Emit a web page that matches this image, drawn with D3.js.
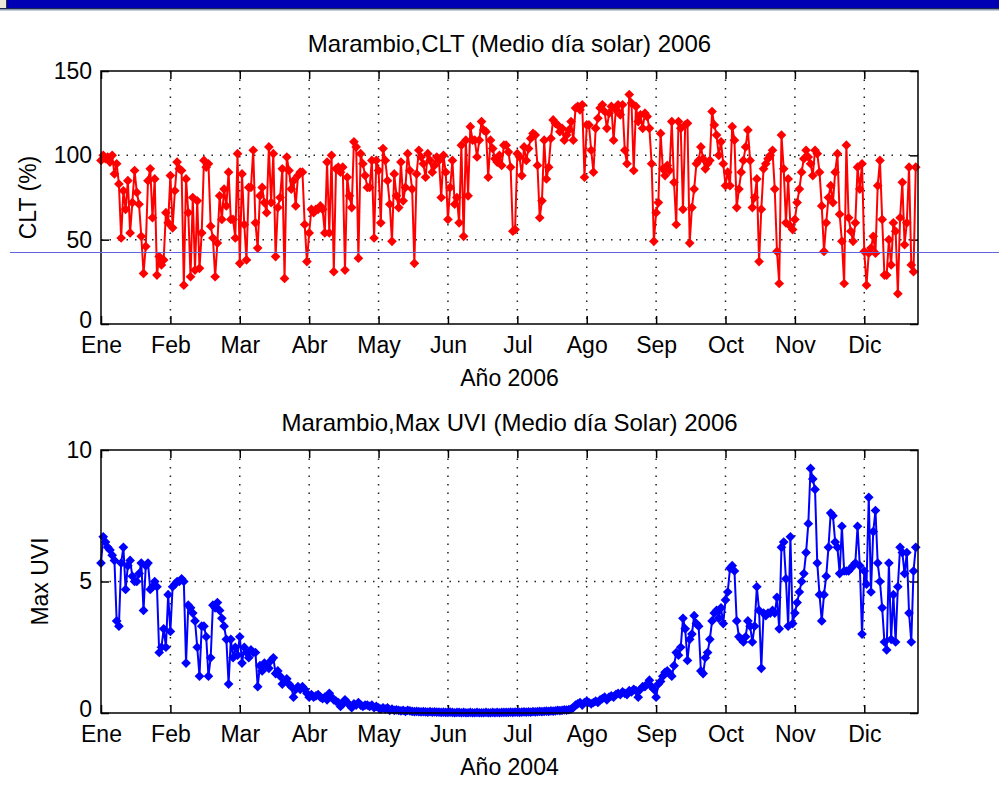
<!DOCTYPE html>
<html>
<head>
<meta charset="utf-8">
<script src="https://cdn.jsdelivr.net/npm/d3@7"></script>
<style>
  body { margin: 0; background: #fff; }
  text { font-family: "Liberation Sans", Arial, sans-serif; fill: #000; }
</style>
</head>
<body>
<div class="vis-holder"></div>
<script>
// month labels and days per month (2006)
var monthLabels = ['Ene', 'Feb', 'Mar', 'Abr', 'May', 'Jun', 'Jul', 'Ago', 'Sep', 'Oct', 'Nov', 'Dic'];
var monthDays = [31, 28, 31, 30, 31, 30, 31, 31, 30, 31, 30, 31];
var tickDays = [1, 32, 63, 94, 125, 156, 187, 218, 249, 280, 311, 342];

// CLT (%) at solar noon, month by month
var cltEne = [97,100,98,99,96,100,89,95,83,51,79,68,85,54,72,91,78,71,52,30,46,85,92,63,86,29,40,35,38,66,60];
var cltFeb = [88,57,79,96,92,91,23,86,66,28,75,32,73,33,54,97,93,95,58,51,28,48,76,62,80,70,90,62];
var cltMar = [62,51,101,36,89,59,38,81,81,103,60,45,76,81,72,66,105,72,101,40,69,75,92,27,99,91,80,85,70,88,90];
var cltAbr = [90,59,37,54,68,66,68,68,70,68,54,96,54,100,31,92,93,90,93,32,87,76,69,108,105,39,101,95,88,81];
var cltMay = [81,97,51,97,91,60,104,97,85,71,49,89,76,69,96,73,81,101,91,80,36,89,103,99,95,87,101,97,90,94,99];
var cltJun = [97,75,100,90,62,81,97,71,75,60,106,52,109,76,117,109,109,99,109,120,115,114,87,109,104,98,96,100,94,106];
var cltJul = [106,102,93,55,56,101,99,88,105,97,104,110,113,112,94,63,73,109,86,93,110,121,119,118,114,116,109,112,115,120,109];
var cltAgo = [128,129,127,130,87,118,118,103,90,116,122,128,130,126,116,125,129,109,127,130,124,130,103,95,136,131,91,129,120,124,116];
var cltSep = [125,123,116,95,49,66,72,113,92,88,94,91,120,84,59,120,116,68,118,119,48,69,80,95,97,105,98,92,95,97];
var cltOct = [126,118,112,100,108,95,82,90,82,117,109,69,80,90,97,105,115,97,69,75,86,37,68,92,95,98,100,103,80,43,24];
var cltNov = [112,92,60,86,58,56,62,72,80,90,98,103,99,95,88,103,101,90,70,43,60,75,82,72,90,101,65,49,24,106];
var cltDic = [63,55,49,60,93,80,95,43,23,42,45,52,42,82,97,62,29,29,50,35,60,55,18,63,84,47,60,93,35,31,93];

// Max UVI at solar noon, month by month
var uviEne = [5.7,6.7,6.5,6.3,6.2,6.0,5.8,3.5,3.3,5.7,6.3,4.7,5.6,5.8,5.2,5.0,5.0,5.3,5.7,3.9,5.6,5.7,4.7,4.8,5.0,4.8,2.3,2.5,3.2,2.5,4.5];
var uviFeb = [3.1,4.8,4.9,5.0,5.0,5.1,5.0,1.9,4.1,4.0,3.8,3.5,2.5,1.4,3.3,3.3,2.9,1.4,2.1,4.1,4.0,4.2,3.9,3.6,3.3,2.8,1.1,2.8];
var uviMar = [2.1,2.5,2.2,2.9,1.9,2.5,2.3,2.1,2.4,2.3,2.3,1.0,1.8,1.6,1.9,1.8,1.7,2.0,2.1,1.5,1.6,1.4,1.1,1.2,1.3,1.1,1.0,0.6,0.9,1.0,0.9];
var uviAbr = [1.0,0.9,0.75,0.6,0.7,0.6,0.65,0.7,0.6,0.55,0.6,0.5,0.75,0.6,0.5,0.45,0.4,0.25,0.35,0.5,0.4,0.3,0.2,0.35,0.3,0.4,0.3,0.25,0.3,0.3];
var uviMay = [0.25,0.3,0.2,0.25,0.2,0.15,0.2,0.15,0.2,0.1,0.15,0.1,0.12,0.1,0.08,0.1,0.06,0.1,0.08,0.06,0.05,0.06,0.05,0.04,0.05,0.04,0.03,0.05,0.03,0.04,0.03];
var uviJun = [0.03,0.02,0.03,0.02,0.02,0.03,0.02,0.01,0.02,0.02,0.01,0.02,0.01,0.01,0.02,0.01,0.01,0.02,0.01,0.01,0.01,0.02,0.01,0.01,0.02,0.01,0.02,0.01,0.02,0.02];
var uviJul = [0.02,0.02,0.03,0.02,0.03,0.03,0.02,0.03,0.04,0.03,0.04,0.03,0.05,0.04,0.05,0.06,0.05,0.06,0.07,0.06,0.08,0.07,0.08,0.1,0.09,0.1,0.12,0.11,0.13,0.15,0.2];
var uviAgo = [0.3,0.35,0.4,0.3,0.4,0.45,0.4,0.35,0.4,0.45,0.4,0.5,0.55,0.6,0.5,0.6,0.65,0.6,0.7,0.75,0.7,0.8,0.75,0.7,0.85,0.8,0.9,0.85,0.6,0.9,1.0];
var uviSep = [1.0,1.1,1.25,1.0,0.9,0.6,1.1,1.2,1.4,1.55,1.6,1.5,1.4,1.8,2.3,2.2,2.5,3.6,3.2,2.0,2.8,3.0,3.7,3.4,3.3,1.6,1.5,2.1,2.3,2.8];
var uviOct = [3.5,3.8,3.9,3.6,4.0,3.4,4.3,4.6,5.5,5.6,5.4,3.5,2.9,2.8,2.7,2.9,3.5,3.3,2.7,3.3,4.8,3.9,1.7,3.8,3.7,3.8,3.8,3.9,3.8,4.4,3.2];
var uviNov = [6.3,6.5,5.1,3.3,6.7,3.4,3.8,4.2,4.6,5.0,5.3,6.1,7.2,9.3,8.9,8.5,5.7,4.5,3.5,4.5,5.2,6.3,7.6,7.5,6.5,6.3,5.3,7.1,5.4,5.4];
var uviDic = [5.4,5.5,5.6,5.7,7.1,5.6,3.0,5.4,4.9,8.2,4.6,6.9,7.7,5.7,5.0,4.0,2.7,2.4,5.7,2.8,4.5,2.7,4.8,6.3,6.1,5.3,6.1,3.8,2.7,5.4,6.3];

var cltMonths = [cltEne, cltFeb, cltMar, cltAbr, cltMay, cltJun, cltJul, cltAgo, cltSep, cltOct, cltNov, cltDic];
var uviMonths = [uviEne, uviFeb, uviMar, uviAbr, uviMay, uviJun, uviJul, uviAgo, uviSep, uviOct, uviNov, uviDic];

// spread each month's readings over the days of that month
function toDays(months) {
  var out = [];
  var start = 1;
  months.forEach(function(vals, m) {
    var len = monthDays[m];
    vals.forEach(function(v, j) {
      out.push({ day: start + j * (len - 1) / (vals.length - 1), v: v });
    });
    start += len;
  });
  return out;
}

var width = 999;
var height = 794;
var fontSize = '23px';

var svg = d3.select('div.vis-holder')
            .append('svg')
            .attr('width', width)
            .attr('height', height)
            .style('display', 'block')
            .style('background', '#fff');

// window title strip at the very top
svg.append('rect').attr('x', 0).attr('y', 0).attr('width', width).attr('height', 8).attr('fill', '#0000b4');
svg.append('rect').attr('x', 0).attr('y', 0).attr('width', 6).attr('height', 8).attr('fill', '#ece9d8');
svg.append('line').attr('x1', 6.5).attr('x2', 6.5).attr('y1', 0).attr('y2', 8).attr('stroke', '#333');
svg.append('rect').attr('x', 0).attr('y', 8).attr('width', width).attr('height', 1.5).attr('fill', '#1b2a55');
svg.append('rect').attr('x', 0).attr('y', 9.5).attr('width', width).attr('height', 1).attr('fill', '#8c9cb8');

var left = 101, right = 918;
var x = d3.scaleLinear().domain([1, 366]).range([left, right]);

function drawPanel(opts) {
  var y = d3.scaleLinear().domain([0, opts.yMax]).range([opts.bottom, opts.top]);
  var g = svg.append('g');

  // dotted grid
  g.append('g').selectAll('line')
   .data(tickDays.slice(1))
   .enter().append('line')
   .attr('x1', d => x(d)).attr('x2', d => x(d))
   .attr('y1', opts.top).attr('y2', opts.bottom)
   .attr('stroke', '#222').attr('stroke-width', 1.5)
   .attr('stroke-dasharray', '1.5,7');
  g.append('g').selectAll('line')
   .data(opts.yTicks.slice(1, -1))
   .enter().append('line')
   .attr('x1', left).attr('x2', right)
   .attr('y1', d => y(d)).attr('y2', d => y(d))
   .attr('stroke', '#222').attr('stroke-width', 1.5)
   .attr('stroke-dasharray', '1.5,7');

  // axes with inward ticks on all four sides
  g.append('g')
   .attr('transform', `translate(0, ${opts.bottom})`)
   .call(d3.axisBottom(x).tickValues(tickDays)
           .tickFormat((d, i) => monthLabels[i])
           .tickSizeInner(-8).tickSizeOuter(0).tickPadding(13));
  g.append('g')
   .attr('transform', `translate(0, ${opts.top})`)
   .call(d3.axisTop(x).tickValues(tickDays).tickFormat('')
           .tickSizeInner(-8).tickSizeOuter(0));
  var yAxis = g.append('g')
               .attr('transform', `translate(${left}, 0)`)
               .call(d3.axisLeft(y).tickValues(opts.yTicks)
                       .tickSizeInner(-8).tickSizeOuter(0).tickPadding(9));
  g.append('g')
   .attr('transform', `translate(${right}, 0)`)
   .call(d3.axisRight(y).tickValues(opts.yTicks).tickFormat('')
           .tickSizeInner(-8).tickSizeOuter(0));
  g.selectAll('.domain').remove();
  g.selectAll('.tick line').attr('stroke', '#000').attr('stroke-width', 1.5);
  g.selectAll('.tick text')
   .style('font-family', '"Liberation Sans", Arial, sans-serif')
   .style('font-size', fontSize).attr('fill', '#000');
  // the zero label sits a little above its tick, as in the original
  yAxis.selectAll('.tick text').filter(d => d === 0).attr('y', -4);

  // data line with diamond markers
  var data = toDays(opts.months);
  var line = d3.line().x(d => x(d.day)).y(d => y(d.v));
  g.append('path')
   .datum(data)
   .attr('d', line)
   .attr('fill', 'none')
   .attr('stroke', opts.color)
   .attr('stroke-width', 2);
  g.append('g').selectAll('path')
   .data(data)
   .enter().append('path')
   .attr('transform', d => `translate(${x(d.day)},${y(d.v)})`)
   .attr('d', d3.symbol(d3.symbolDiamond2, 60))
   .attr('fill', opts.color);

  // box
  g.append('rect')
   .attr('x', left).attr('y', opts.top)
   .attr('width', right - left).attr('height', opts.bottom - opts.top)
   .attr('fill', 'none').attr('stroke', '#000').attr('stroke-width', 1.5);

  // labels
  g.append('text')
   .attr('text-anchor', 'middle')
   .attr('x', (left + right) / 2).attr('y', opts.top - 19)
   .style('font-size', '24px')
   .text(opts.title);
  g.append('text')
   .attr('text-anchor', 'middle')
   .attr('x', (left + right) / 2).attr('y', opts.bottom + 62)
   .style('font-size', fontSize)
   .text(opts.xLabel);
  g.append('text')
   .attr('text-anchor', 'middle')
   .attr('transform', 'translate(' + opts.yLabelX + ',' + ((opts.top + opts.bottom) / 2) + ')rotate(-90)')
   .style('font-size', fontSize)
   .text(opts.yLabel);
}

drawPanel({
  top: 71, bottom: 324, yMax: 150, yTicks: [0, 50, 100, 150],
  months: cltMonths, color: '#ff0000',
  title: 'Marambio,CLT (Medio día solar) 2006',
  xLabel: 'Año 2006', yLabel: 'CLT (%)', yLabelX: 36
});

drawPanel({
  top: 450, bottom: 713, yMax: 10, yTicks: [0, 5, 10],
  months: uviMonths, color: '#0000ff',
  title: 'Marambio,Max UVI (Medio día Solar) 2006',
  xLabel: 'Año 2004', yLabel: 'Max UVI', yLabelX: 48
});

// thin stray blue line across the figure
svg.append('line')
   .attr('x1', 10).attr('x2', width)
   .attr('y1', 252.5).attr('y2', 252.5)
   .attr('stroke', '#6464dc').attr('stroke-width', 1);
</script>
</body>
</html>
